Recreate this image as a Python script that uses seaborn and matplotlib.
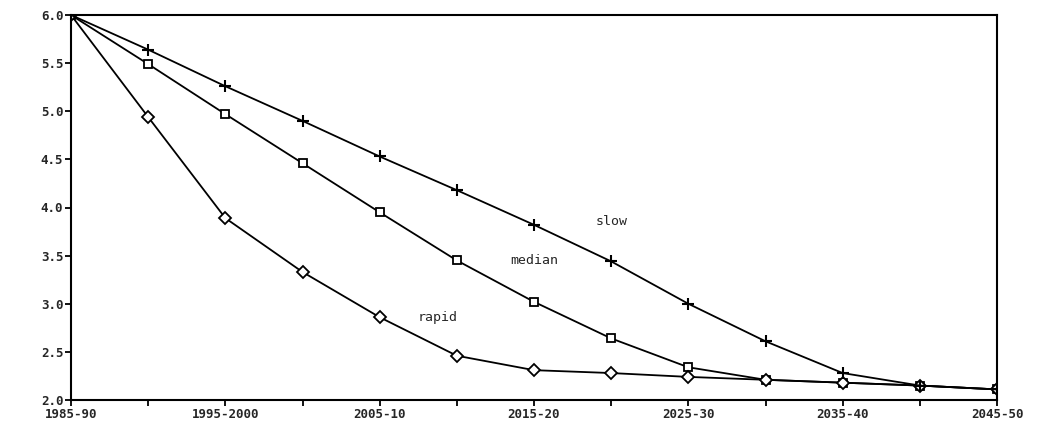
import matplotlib
matplotlib.use("Agg")
import matplotlib.pyplot as plt
import numpy as np
import pandas as pd
import seaborn as sns

# Periods on the x axis (every other one gets a label)
periods = ["1985-90", "1990-95", "1995-2000", "2000-05", "2005-10", "2010-15",
           "2015-20", "2020-25", "2025-30", "2030-35", "2035-40", "2040-45", "2045-50"]

# Fertility paths
slow = [6.00, 5.64, 5.26, 4.90, 4.53, 4.18, 3.82, 3.44, 3.00, 2.61, 2.28, 2.15, 2.11]
median = [6.00, 5.49, 4.97, 4.46, 3.95, 3.45, 3.02, 2.64, 2.34, 2.21, 2.18, 2.15, 2.11]
rapid = [6.00, 4.94, 3.89, 3.33, 2.86, 2.46, 2.31, 2.28, 2.24, 2.21, 2.18, 2.15, 2.11]

scenario_names = ["slow", "median", "rapid"]
y_ticks = [2.0, 2.5, 3.0, 3.5, 4.0, 4.5, 5.0, 5.5, 6.0]

df = pd.concat([
    pd.DataFrame({"pos": np.arange(len(periods)), "value": vals, "scenario": name})
    for name, vals in zip(scenario_names, [slow, median, rapid])
])

sns.set_style("white")
plt.rcParams["font.family"] = ["DejaVu Sans Mono", "DejaVu Sans"]

fig = plt.figure(figsize=(10.44, 4.22), dpi=100)
ax = fig.add_axes([71 / 1044, 22 / 422, (997 - 71) / 1044, (400 - 15) / 422])

sns.lineplot(data=df[df.scenario != "slow"], x="pos", y="value", style="scenario",
             markers={"median": "s", "rapid": "D"},
             dashes=False, color="black", linewidth=1.3, markersize=6,
             markerfacecolor="white", markeredgecolor="black", markeredgewidth=1.3,
             legend=False, ax=ax)
sns.lineplot(data=df[df.scenario == "slow"], x="pos", y="value",
             marker="+", color="black", linewidth=1.3, markersize=8,
             markeredgecolor="black", markeredgewidth=1.5, legend=False, ax=ax)

ax.set_xlim(0, len(periods) - 1)
ax.set_ylim(2.0, 6.0)
ax.set_xticks(np.arange(len(periods)))
ax.set_xticklabels([p if i % 2 == 0 else "" for i, p in enumerate(periods)],
                   fontsize=9, fontweight="bold")
ax.set_yticks(y_ticks)
ax.set_yticklabels([f"{t:.1f}" for t in y_ticks], fontsize=9, fontweight="bold")
ax.set_xlabel("")
ax.set_ylabel("")

for s in ax.spines.values():
    s.set_color("black")
    s.set_linewidth(1.5)

ax.tick_params(axis="both", direction="out", length=4, width=1.3, color="black",
               bottom=True, left=True, pad=1.5)

# line labels written on the chart
ax.text(7.0, 3.85, "slow", fontsize=9.5, ha="center", va="center")
ax.text(6.0, 3.45, "median", fontsize=9.5, ha="center", va="center")
ax.text(4.75, 2.86, "rapid", fontsize=9.5, ha="center", va="center")

fig.savefig("out.png", dpi=100)
